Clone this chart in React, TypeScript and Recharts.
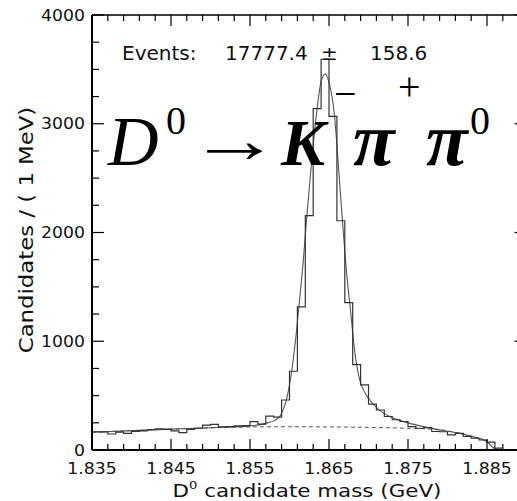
import { ComposedChart, Line, XAxis, YAxis } from 'recharts'

// 1 MeV bins, lower edges + the upper edge of the last bin
const MASS_EDGES = [
  1.835, 1.836, 1.837, 1.838, 1.839, 1.84, 1.841, 1.842, 1.843, 1.844,
  1.845, 1.846, 1.847, 1.848, 1.849, 1.85, 1.851, 1.852, 1.853, 1.854,
  1.855, 1.856, 1.857, 1.858, 1.859, 1.86, 1.861, 1.862, 1.863, 1.864,
  1.865, 1.866, 1.867, 1.868, 1.869, 1.87, 1.871, 1.872, 1.873, 1.874,
  1.875, 1.876, 1.877, 1.878, 1.879, 1.88, 1.881, 1.882, 1.883, 1.884,
  1.885, 1.886, 1.887,
]
const COUNTS = [
  168, 166, 147, 165, 152, 172, 176, 186, 195, 190,
  176, 160, 190, 200, 228, 236, 212, 216, 222, 224,
  261, 238, 312, 302, 460, 724, 1316, 2155, 3140, 3593,
  3068, 2108, 1355, 785, 598, 421, 368, 308, 278, 262,
  215, 200, 206, 170, 168, 140, 152, 124, 108, 92,
  72, 18,
]

// fit (signal + background)
const FIT_MASS = [
  1.835, 1.84, 1.845, 1.85, 1.855, 1.857, 1.858, 1.8588, 1.8597, 1.8603,
  1.8609, 1.8613, 1.8617, 1.8622, 1.8628, 1.8635, 1.864, 1.8645, 1.865, 1.8657,
  1.8662, 1.8667, 1.8672, 1.8677, 1.8683, 1.8689, 1.8696, 1.8705, 1.8715, 1.8725,
  1.874, 1.8752, 1.877, 1.8786, 1.88, 1.8816, 1.883, 1.884, 1.885, 1.8858, 1.8862,
]
const FIT_VALUES = [
  163, 178, 192, 205, 222, 245, 268, 313, 490, 736,
  1103, 1400, 1700, 2155, 2650, 3142, 3390, 3457, 3380, 3071,
  2600, 2109, 1650, 1300, 880, 640, 520, 430, 360, 315,
  270, 245, 215, 190, 172, 153, 125, 107, 77, 20, 5,
]

// background component (dashed)
const BKG_MASS = [1.835, 1.84, 1.845, 1.85, 1.855, 1.86, 1.865, 1.87, 1.875, 1.8786, 1.8816, 1.884, 1.885, 1.8858, 1.8862]
const BKG_VALUES = [163, 178, 192, 203, 212, 214, 212, 208, 200, 190, 153, 107, 77, 20, 5]

const X_TICKS = [
  1.835, 1.837, 1.839, 1.841, 1.843, 1.845, 1.847, 1.849, 1.851, 1.853,
  1.855, 1.857, 1.859, 1.861, 1.863, 1.865, 1.867, 1.869, 1.871, 1.873,
  1.875, 1.877, 1.879, 1.881, 1.883, 1.885, 1.887, 1.889,
]
const X_LABELS = ['1.835', '1.845', '1.855', '1.865', '1.875', '1.885']
const Y_TICKS = [0, 250, 500, 750, 1000, 1250, 1500, 1750, 2000, 2250, 2500, 2750, 3000, 3250, 3500, 3750, 4000]
const Y_LABELS = ['0', '1000', '2000', '3000', '4000']

const histRows = MASS_EDGES.map((m, i) => ({ m, n: COUNTS[Math.min(i, COUNTS.length - 1)] }))
const fitRows = FIT_MASS.map((m, i) => ({ m, n: FIT_VALUES[i] }))
const bkgRows = BKG_MASS.map((m, i) => ({ m, n: BKG_VALUES[i] }))

const xLabel = (v: number) => X_LABELS.find(l => Math.abs(parseFloat(l) - v) < 1e-6)
const yLabel = (v: number) => Y_LABELS.find(l => Math.abs(parseFloat(l) - v) < 1e-6)

const FONT = "'DejaVu Sans', sans-serif"
const SERIF = "'Liberation Serif', 'Times New Roman', serif"

function BottomTick({ x, y, payload }: any) {
  const label = xLabel(payload.value)
  return (
    <g>
      <line x1={x} x2={x} y1={y} y2={y - (label ? 11 : 6)} stroke="#000" strokeWidth={1.2} />
      {label && (
        <text transform={`translate(${x},${y + 24}) scale(1.15,1)`} textAnchor="middle"
          fontFamily={FONT} fontSize={15} fill="#111">{label}</text>
      )}
    </g>
  )
}

function TopTick({ x, y, payload }: any) {
  const major = xLabel(payload.value)
  return <line x1={x} x2={x} y1={y} y2={y + (major ? 11 : 6)} stroke="#000" strokeWidth={1.2} />
}

function LeftTick({ x, y, payload }: any) {
  const label = yLabel(payload.value)
  return (
    <g>
      <line x1={x} x2={x + (label ? 12 : 7)} y1={y} y2={y} stroke="#000" strokeWidth={1.2} />
      {label && (
        <text transform={`translate(${x - 7},${y + 5.5}) scale(1.15,1)`} textAnchor="end"
          fontFamily={FONT} fontSize={15} fill="#111">{label}</text>
      )}
    </g>
  )
}

function RightTick({ x, y, payload }: any) {
  const major = yLabel(payload.value)
  return <line x1={x} x2={x - (major ? 12 : 7)} y1={y} y2={y} stroke="#000" strokeWidth={1.2} />
}

export default function App() {
  return (
    <div style={{ position: 'fixed', left: 0, top: 0, width: 517, height: 501, overflow: 'hidden', background: '#fff' }}>
      <ComposedChart width={530} height={501} margin={{ top: 14, right: 2.5, bottom: 11, left: 32 }}>
        <XAxis xAxisId="b" dataKey="m" type="number" domain={[1.835, 1.89]} allowDataOverflow
          ticks={X_TICKS} interval={0} tickSize={0} tickMargin={0} height={40}
          axisLine={{ stroke: '#000', strokeWidth: 2 }} tickLine={false} tick={<BottomTick />} />
        <XAxis xAxisId="t" orientation="top" dataKey="m" type="number" domain={[1.835, 1.89]} allowDataOverflow
          ticks={X_TICKS} interval={0} tickSize={0} tickMargin={0} height={1}
          axisLine={{ stroke: '#000', strokeWidth: 1.5 }} tickLine={false} tick={<TopTick />} />
        <YAxis yAxisId="l" type="number" domain={[0, 4000]} allowDataOverflow
          ticks={Y_TICKS} interval={0} tickSize={0} tickMargin={0} width={60}
          axisLine={{ stroke: '#000', strokeWidth: 2 }} tickLine={false} tick={<LeftTick />} />
        <YAxis yAxisId="r" orientation="right" type="number" domain={[0, 4000]} allowDataOverflow
          ticks={Y_TICKS} interval={0} tickSize={0} tickMargin={0} width={1}
          axisLine={{ stroke: '#000', strokeWidth: 1.5 }} tickLine={false} tick={<RightTick />} />
        <Line xAxisId="b" yAxisId="l" data={bkgRows} dataKey="n" type="monotone" stroke="#555"
          strokeWidth={1} strokeDasharray="4 3" dot={false} isAnimationActive={false} />
        <Line xAxisId="b" yAxisId="l" data={fitRows} dataKey="n" type="monotone" stroke="#555"
          strokeWidth={1.1} dot={false} isAnimationActive={false} />
        <Line xAxisId="b" yAxisId="l" data={histRows} dataKey="n" type="stepAfter" stroke="#333"
          strokeWidth={1.2} dot={false} isAnimationActive={false} />
      </ComposedChart>

      <svg width={517} height={501} style={{ position: 'absolute', left: 0, top: 0, pointerEvents: 'none' }}>
        <g fontFamily={FONT} fontSize={20} fill="#111">
          <text x={122} y={60}>Events:</text>
          <text x={225} y={60}>17777.4</text>
          <text x={321} y={60}>±</text>
          <text x={370} y={60}>158.6</text>
        </g>

        <g fontFamily={SERIF} fill="#000">
          <text x={108} y={165} fontSize={70} fontStyle="italic">D</text>
          <text x={166} y={134} fontSize={40}>0</text>
          <text transform="translate(188,162) scale(1.4,1)" fontSize={66}>→</text>
          <text x={281} y={165} fontSize={66} fontStyle="italic" fontWeight="bold">K</text>
          <text x={334} y={107} fontSize={40}>−</text>
          <text x={353} y={165} fontSize={76} fontStyle="italic" fontWeight="bold">π</text>
          <text x={398} y={100} fontSize={40}>+</text>
          <text x={426} y={165} fontSize={76} fontStyle="italic" fontWeight="bold">π</text>
          <text x={470} y={134} fontSize={40}>0</text>
        </g>

        <text transform="translate(307,497) scale(1.19,1)" textAnchor="middle" fontFamily={FONT} fontSize={18} fill="#111">
          D<tspan dy={-8} fontSize={11}>0</tspan><tspan dy={8} fontSize={18}> candidate mass (GeV)</tspan>
        </text>
        <text transform="translate(33,230) rotate(-90) scale(1.2,1)" textAnchor="middle" fontFamily={FONT} fontSize={19} fill="#111">
          Candidates / ( 1 MeV)
        </text>
      </svg>
    </div>
  )
}
